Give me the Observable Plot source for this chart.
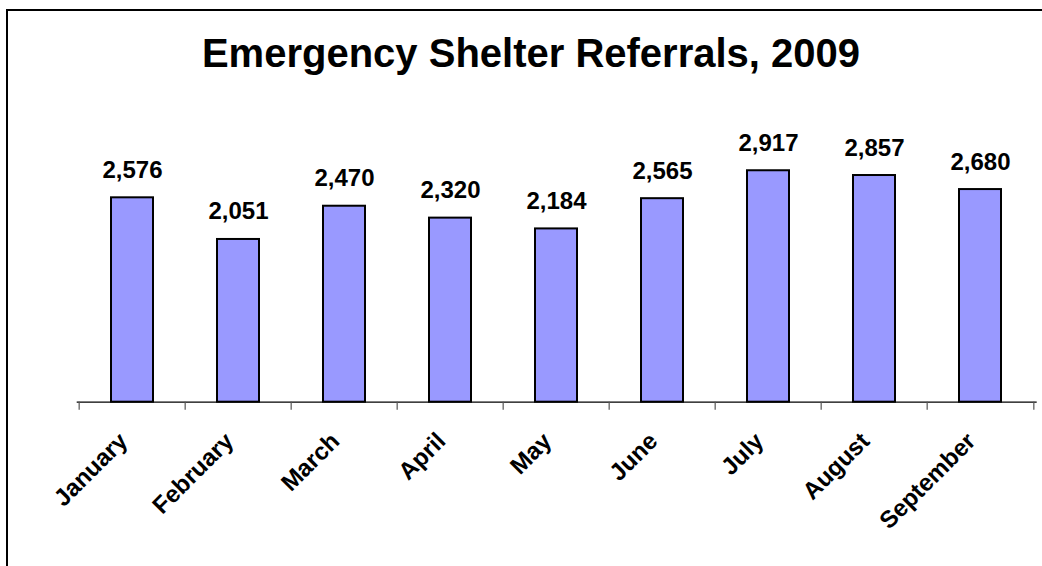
<!DOCTYPE html>
<html><head><meta charset="utf-8">
<script src="https://cdn.jsdelivr.net/npm/d3@7"></script>
<script src="https://cdn.jsdelivr.net/npm/@observablehq/plot@0.6"></script>
<style>
html,body{margin:0;padding:0;background:#fff;overflow:hidden}
#wrap{position:relative;width:1042px;height:566px;overflow:hidden;font-family:"Liberation Sans",Arial,sans-serif}
#frame{position:absolute;left:6px;top:9px;width:1100px;height:600px;border-top:2px solid #000;border-left:2px solid #000;pointer-events:none;box-sizing:border-box}
#title{height:100px;box-sizing:border-box;padding-top:33px;line-height:40px;font-size:40px;font-weight:bold;text-align:center;color:#000;padding-left:20px}
svg{display:block}
</style>
</head><body>
<div id="wrap">
  <div id="title">Emergency Shelter Referrals, 2009</div>
  <div id="chart"></div>
  <div id="frame"></div>
</div>
<script>
const months = ["January","February","March","April","May","June","July","August","September"];
const referrals = [2576, 2051, 2470, 2320, 2184, 2565, 2917, 2857, 2680];
const yDomain = [0, 3500];

const data = months.map((m, i) => ({month: m, value: referrals[i]}));
const W = 1042, H = 466, ML = 76.7, MR = 5.3, MT = 24, MB = 164.3;
const step = (W - ML - MR) / months.length;
const fmt = d3.format(",");
const font = "Liberation Sans, Arial, sans-serif";

const chart = Plot.plot({
  width: W, height: H,
  marginLeft: ML, marginRight: MR, marginTop: MT, marginBottom: MB,
  x: {domain: months, paddingInner: 0.6, paddingOuter: 0.3, axis: null},
  y: {domain: yDomain, axis: null},
  style: {fontFamily: font, background: "transparent", overflow: "visible", color: "#000"},
  marks: [
    Plot.barY(data, {x: "month", y: "value", fill: "#9999FF", stroke: "#000", strokeWidth: 2}),
    Plot.ruleY([0], {stroke: "#000", strokeWidth: 1.2}),
    Plot.axisX({ticks: months, tickSize: 8, tickFormat: () => "", label: null, dx: -step / 2, stroke: "#555", strokeWidth: 1.2}),
    Plot.axisX({ticks: [months[months.length - 1]], tickSize: 8, tickFormat: () => "", label: null, dx: step / 2, stroke: "#555", strokeWidth: 1.2}),
    Plot.text(data, {x: "month", y: "value", text: d => fmt(d.value), lineAnchor: "bottom", dy: -20,
      fontSize: 24, fontWeight: "bold", fill: "#000"}),
    Plot.text(data, {x: "month", frameAnchor: "bottom", text: "month", rotate: -45, textAnchor: "end",
      lineAnchor: "middle", dx: -9, dy: 35, fontSize: 24, fontWeight: "bold", fill: "#000"})
  ]
});
document.getElementById("chart").appendChild(chart);
</script>
</body></html>
